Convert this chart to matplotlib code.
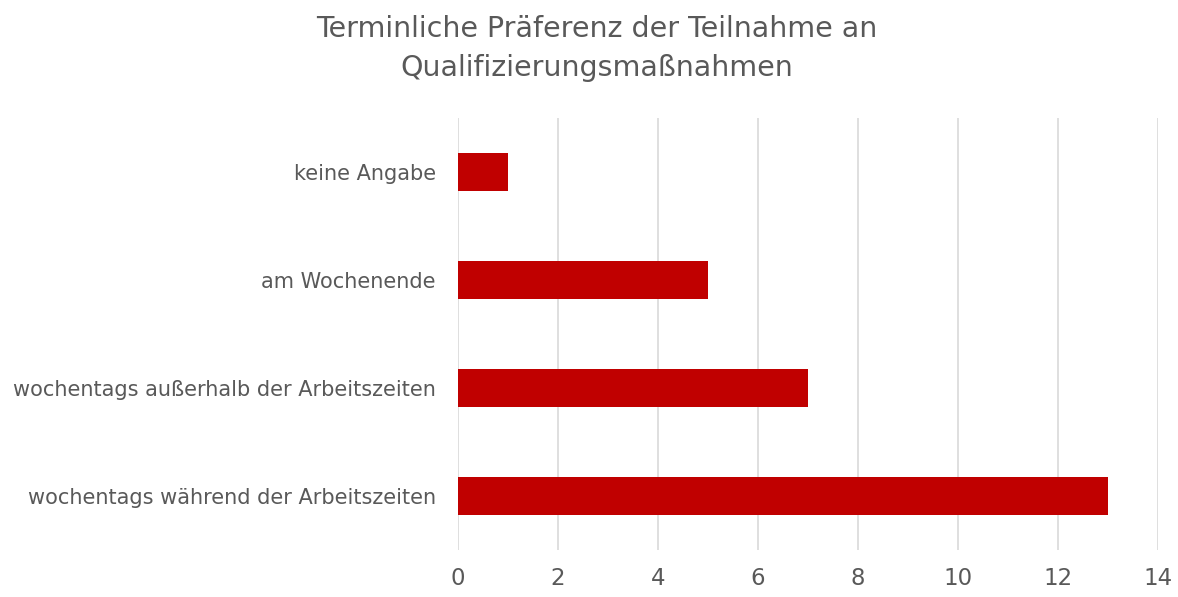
import matplotlib.pyplot as plt

kategorien = ["wochentags während der Arbeitszeiten",
              "wochentags außerhalb der Arbeitszeiten",
              "am Wochenende",
              "keine Angabe"]
anzahl = [13, 7, 5, 1]
x_ticks = [0, 2, 4, 6, 8, 10, 12, 14]

plt.rcParams['font.family'] = ['DejaVu Sans']
grau = '#595959'

fig = plt.figure(figsize=(11.78, 5.97), dpi=100)
ax = fig.add_axes([0.3888, 0.0787, 0.5942, 0.7236])

ax.barh(range(len(kategorien)), anzahl, height=0.35, color='#C00000', zorder=3)

ax.set_xlim(0, 14)
ax.set_ylim(-0.5, len(kategorien) - 0.5)
ax.set_xticks(x_ticks)
ax.set_yticks(range(len(kategorien)))
ax.set_yticklabels(kategorien)
ax.tick_params(axis='both', length=0, colors=grau)
ax.tick_params(axis='y', pad=16, labelsize=15)
ax.tick_params(axis='x', pad=12, labelsize=16.5)
ax.xaxis.grid(True, color='#D9D9D9', linewidth=1.2, zorder=0)
for s in ax.spines.values():
    s.set_visible(False)

fig.suptitle("Terminliche Präferenz der Teilnahme an\nQualifizierungsmaßnahmen",
             x=0.507, y=0.975, fontsize=20.5, color=grau, linespacing=1.5)

fig.savefig("out.png", dpi=100)
